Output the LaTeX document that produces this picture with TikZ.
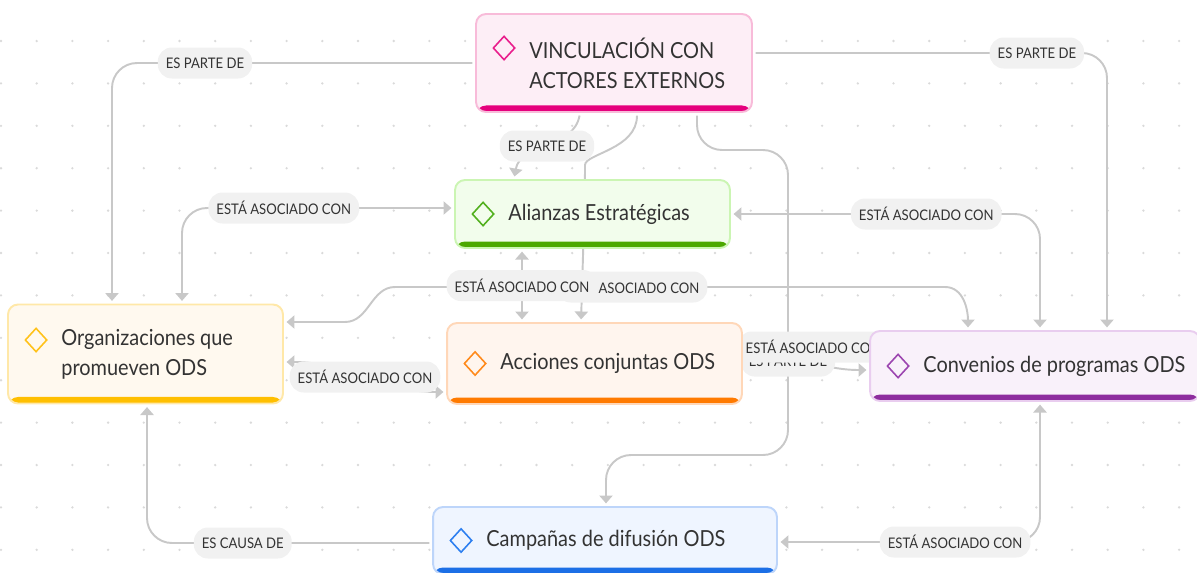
\documentclass[tikz,border=0pt]{standalone}
\usepackage{fontspec}
\setmainfont{Lato}
\newfontfamily\diagfont{Lato}[FakeStretch=0.9]
\usetikzlibrary{positioning, calc, shapes.geometric, arrows.meta}
\pgfdeclarelayer{dots}
\pgfdeclarelayer{edges}
\pgfdeclarelayer{labels}
\pgfsetlayers{dots,edges,labels,main}

\definecolor{lineC}{HTML}{C8C8C8}
\definecolor{pillC}{HTML}{F1F1F1}
\definecolor{dotC}{HTML}{DADADA}
\definecolor{txtC}{HTML}{333333}
\definecolor{vincFill}{HTML}{FDEEF6}
\definecolor{vincLine}{HTML}{F8BBD9}
\definecolor{vincBar}{HTML}{E5007D}
\definecolor{vincIcon}{HTML}{E91E8C}
\definecolor{aliFill}{HTML}{F2FDEC}
\definecolor{aliLine}{HTML}{CBF5B3}
\definecolor{aliBar}{HTML}{4CA800}
\definecolor{aliIcon}{HTML}{52B01E}
\definecolor{orgFill}{HTML}{FFF9EF}
\definecolor{orgLine}{HTML}{FFE8A8}
\definecolor{orgBar}{HTML}{FFBF00}
\definecolor{orgIcon}{HTML}{FFC21A}
\definecolor{accFill}{HTML}{FFF5EE}
\definecolor{accLine}{HTML}{FFD7B8}
\definecolor{accBar}{HTML}{FF7A00}
\definecolor{accIcon}{HTML}{FF8A1C}
\definecolor{convFill}{HTML}{F9F1FA}
\definecolor{convLine}{HTML}{E9CDEF}
\definecolor{convBar}{HTML}{8E2D9E}
\definecolor{convIcon}{HTML}{9C45B0}
\definecolor{campFill}{HTML}{EFF5FF}
\definecolor{campLine}{HTML}{BDD5FA}
\definecolor{campBar}{HTML}{1C6FE6}
\definecolor{campIcon}{HTML}{2D7FF0}

\tikzset{
    box/.style = {
        draw=#1Line, fill=#1Fill, line width=1.1pt,
        rounded corners=0.2cm, inner sep=0,
        path picture={
            \fill[#1Bar] ([yshift=0.13cm]path picture bounding box.south west)
                rectangle (path picture bounding box.south east);
            }
    },
    icon/.style = {
        diamond, draw=#1Icon, line width=0.9pt,
        minimum width=0.44cm, minimum height=0.48cm, inner sep=0
    },
    boxtext/.style = {
        anchor=west, align=left, inner sep=0, text=txtC,
        font=\diagfont\fontsize{12.6}{17}\selectfont
    },
    conn/.style = {
        draw=lineC, line width=1.1pt, rounded corners=0.5cm,
        >={Triangle[length=4.5pt, width=7.5pt]},
        shorten >=1.5pt, shorten <=1.5pt
    },
    lbl/.style = {
        fill=pillC, rounded corners=0.28cm, inner xsep=0.16cm, inner ysep=0,
        minimum height=0.62cm, text=txtC,
        font=\diagfont\fontsize{8.3}{10}\selectfont
    }
}

\begin{document}
\begin{tikzpicture}[x=0.02cm, y=-0.02cm]
    \useasboundingbox (0,0) rectangle (1197,572);

    % dotted canvas
    \begin{pgfonlayer}{dots}
    \foreach \i in {0,...,33}
        \foreach \j in {0,...,12}
            \fill[dotC] (1+35.7*\i, 41+42.4*\j) circle[radius=0.026cm];
    \end{pgfonlayer}

    % topics
    \node[box=vinc, minimum width=5.52cm, minimum height=1.96cm] (vinc) at (614,63) {};
    \node[boxtext] (vinct) at ([xshift=1.08cm]vinc.west) {VINCULACIÓN CON\\ACTORES EXTERNOS};
    \node[icon=vinc] (vinci) at ([xshift=0.58cm, yshift=0.3cm]vinc.west) {};

    \node[box=ali, minimum width=5.5cm, minimum height=1.36cm] (ali) at (592.5,214) {};
    \node[boxtext] (alit) at ([xshift=1.08cm]ali.west) {Alianzas Estratégicas};
    \node[icon=ali] (alii) at ([xshift=0.58cm]ali.west) {};

    \node[box=org, minimum width=5.5cm, minimum height=1.98cm] (org) at (145.5,354) {};
    \node[boxtext] (orgt) at ([xshift=1.08cm]org.west) {Organizaciones que\\promueven ODS};
    \node[icon=org] (orgi) at ([xshift=0.58cm, yshift=0.28cm]org.west) {};

    \node[box=acc, minimum width=5.9cm, minimum height=1.62cm] (acc) at (594.5,363.5) {};
    \node[boxtext] (acct) at ([xshift=1.08cm]acc.west) {Acciones conjuntas ODS};
    \node[icon=acc] (acci) at ([xshift=0.58cm]acc.west) {};

    \node[box=conv, minimum width=6.6cm, minimum height=1.4cm] (conv) at (1035,366) {};
    \node[boxtext] (convt) at ([xshift=1.08cm]conv.west) {Convenios de programas ODS};
    \node[icon=conv] (convi) at ([xshift=0.58cm]conv.west) {};

    \node[box=camp, minimum width=6.88cm, minimum height=1.34cm] (camp) at (605,540.5) {};
    \node[boxtext] (campt) at ([xshift=1.08cm]camp.west) {Campañas de difusión ODS};
    \node[icon=camp] (campi) at ([xshift=0.58cm]camp.west) {};

    % connectors
    \begin{pgfonlayer}{edges}
    \draw[conn, ->] (vinc.west) -| (org.north -| 112,0) coordinate[pos=0.372] (m1);
    \draw[conn, ->] (vinc.east |- 0,53) -| (conv.north -| 1107,0) coordinate[pos=0.401] (m2);
    \draw[conn, ->] (vinc.south -| 580,0)
        to[out=-100, in=80] node[coordinate, midway, name=m3] {} (ali.north -| 514,0);
    \draw[conn, ->] (vinc.south -| 637,0) to[out=-90, in=90] (585,190) -- (acc.north -| 581,0);
    \draw[conn, ->] (vinc.south -| 697,0) |- (788,150) |- (606,455) coordinate[pos=0.346] (m4)
        -- (camp.north -| 606,0);
    \draw[conn, <->, sharp corners] (org.east |- 0,322) -- (345,322) to[out=0, in=180] (395,287)
        -- (945,287) coordinate[pos=0.431] (m5) to[out=0, in=90] (conv.north -| 968,0);
    \draw[conn, <->] (ali.south -| 522,0) -- (acc.north -| 522,0) coordinate[midway] (m6);
    \draw[conn, <->] (org.east |- 0,362)
        to[out=0, in=180] node[coordinate, midway, name=m7] {} (acc.west |- 0,392);
    \draw[conn, <->] (org.north -| 182,0) |- (ali.west |- 0,208) coordinate[pos=0.687] (m8);
    \draw[conn, <->] (ali.east) -| (conv.north -| 1040,0) coordinate[pos=0.316] (m9);
    \draw[conn, ->] (acc.east |- 0,352)
        to[out=0, in=180] node[coordinate, midway, name=m10] {} (conv.west |- 0,370);
    \draw[conn, ->] (camp.west |- 0,543) -| (org.south -| 147,0) coordinate[pos=0.332] (m11);
    \draw[conn, <->] (camp.east |- 0,542) -| (conv.south -| 1040,0) coordinate[pos=0.338] (m12);
    \end{pgfonlayer}

    % connector labels
    \begin{pgfonlayer}{labels}
    \node[lbl] (l1) at (m1) {ES PARTE DE};
    \node[lbl] (l2) at (m2) {ES PARTE DE};
    \node[lbl] (l3) at (m3) {ES PARTE DE};
    \node[lbl] (l5) at (m5) {ESTÁ ASOCIADO CON};
    \node[lbl] (l6) at (m6) {ESTÁ ASOCIADO CON};
    \node[lbl] (l4) at (m4) {ES PARTE DE};
    \node[lbl] (l10) at ([xshift=0.14cm, yshift=0.28cm]m10) {ESTÁ ASOCIADO CON};
    \node[lbl] (l7) at (m7) {ESTÁ ASOCIADO CON};
    \node[lbl] (l8) at (m8) {ESTÁ ASOCIADO CON};
    \node[lbl] (l9) at (m9) {ESTÁ ASOCIADO CON};
    \node[lbl] (l11) at (m11) {ES CAUSA DE};
    \node[lbl] (l12) at (m12) {ESTÁ ASOCIADO CON};
    \end{pgfonlayer}
\end{tikzpicture}
\end{document}
